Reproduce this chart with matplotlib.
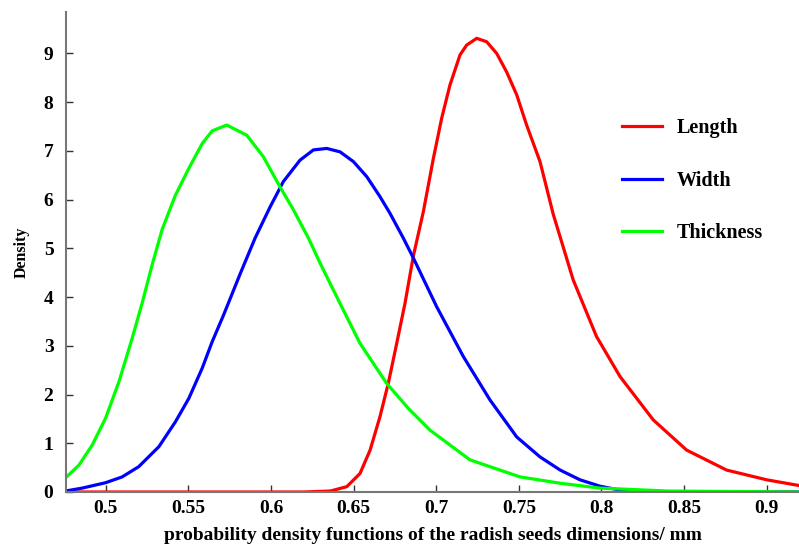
import matplotlib
matplotlib.use("Agg")
import matplotlib.pyplot as plt

# ---------- data ----------
length_x = [0.476, 0.55, 0.62, 0.636, 0.6459, 0.6539, 0.660, 0.666, 0.671, 0.6761, 0.6811,
            0.6862, 0.6922, 0.6983, 0.7033, 0.7083, 0.7144, 0.7184, 0.7245, 0.7305, 0.7366,
            0.7426, 0.7487, 0.7547, 0.7628, 0.7708, 0.7829, 0.797, 0.8112, 0.8313, 0.8515,
            0.8757, 0.900, 0.920]
length_y = [0.0, 0.0, 0.0, 0.02, 0.11, 0.38, 0.86, 1.55, 2.23, 3.05, 3.87,
            4.85, 5.75, 6.85, 7.67, 8.35, 8.97, 9.17, 9.31, 9.24, 9.00,
            8.62, 8.15, 7.53, 6.78, 5.70, 4.35, 3.19, 2.37, 1.48, 0.86,
            0.45, 0.25, 0.13]

width_x = [0.4757, 0.4858, 0.4999, 0.510, 0.520, 0.5322, 0.5422, 0.5503, 0.5584, 0.5644,
           0.5712, 0.5813, 0.5904, 0.5995, 0.6075, 0.6176, 0.6257, 0.6338, 0.6418, 0.6499,
           0.658, 0.666, 0.672, 0.6801, 0.6862, 0.7003, 0.7164, 0.7325, 0.7487, 0.7628,
           0.775, 0.787, 0.799, 0.811, 0.820, 0.920]
width_y = [0.02, 0.08, 0.19, 0.31, 0.52, 0.93, 1.44, 1.92, 2.54, 3.08,
           3.62, 4.47, 5.21, 5.85, 6.37, 6.81, 7.02, 7.05, 6.98, 6.78,
           6.47, 6.06, 5.72, 5.21, 4.80, 3.80, 2.78, 1.89, 1.13, 0.72,
           0.45, 0.25, 0.12, 0.04, 0.0, 0.0]

thick_x = [0.4757, 0.4838, 0.4918, 0.4999, 0.508, 0.516, 0.5221, 0.5281, 0.5342, 0.5422,
           0.5503, 0.5584, 0.5644, 0.5733, 0.5854, 0.5954, 0.6055, 0.6136, 0.6227, 0.6297,
           0.6358, 0.6418, 0.6539, 0.670, 0.683, 0.6962, 0.7204, 0.7507, 0.775, 0.799,
           0.840, 0.920]
thick_y = [0.29, 0.55, 0.96, 1.51, 2.26, 3.15, 3.88, 4.66, 5.39, 6.09,
           6.64, 7.15, 7.41, 7.53, 7.32, 6.88, 6.26, 5.79, 5.21, 4.70,
           4.28, 3.87, 3.05, 2.23, 1.72, 1.27, 0.66, 0.31, 0.18, 0.08,
           0.02, 0.0]

x_ticks = [0.5, 0.55, 0.6, 0.65, 0.7, 0.75, 0.8, 0.85, 0.9]
x_tick_labels = ["0.5", "0.55", "0.6", "0.65", "0.7", "0.75", "0.8", "0.85", "0.9"]
y_ticks = list(range(10))

# ---------- style ----------
plt.rcParams["font.family"] = ["Liberation Serif", "DejaVu Serif"]
plt.rcParams["font.weight"] = "bold"

fig = plt.figure(figsize=(7.99, 5.45), dpi=100)
ax = fig.add_axes([66 / 799, 1 - 492 / 545, 1 - 66 / 799, (492 - 12) / 545])

lw = 2.3
ax.plot(length_x, length_y, color="#ff0000", lw=lw, label="Length")
ax.plot(width_x, width_y, color="#0000ff", lw=lw, label="Width")
ax.plot(thick_x, thick_y, color="#00ff00", lw=lw, label="Thickness")

ax.set_xlim(0.476, 0.9195)
ax.set_ylim(0, 9.85)
ax.set_xticks(x_ticks)
ax.set_xticklabels(x_tick_labels)
ax.set_yticks(y_ticks)

for s in ["top", "right"]:
    ax.spines[s].set_visible(False)
for s in ["left", "bottom"]:
    ax.spines[s].set_color("#777777")
    ax.spines[s].set_linewidth(1.5)

ax.tick_params(direction="in", length=5, width=1, color="#333333", labelsize=14)
ax.tick_params(axis="x", pad=6)
ax.tick_params(axis="y", pad=9)
for lab in ax.get_xticklabels() + ax.get_yticklabels():
    lab.set_fontweight("bold")

ax.set_xlabel("probability density functions of the radish seeds dimensions/ mm",
              fontsize=14, fontweight="bold", labelpad=7)
ax.set_ylabel("Density", fontsize=11.5, fontweight="bold", labelpad=10)

ax.legend(loc="upper left", bbox_to_anchor=((622 - 66) / 733, (492 - 118) / 480),
          frameon=False, handlelength=2.0, handletextpad=0.7,
          labelspacing=1.62, borderpad=0, borderaxespad=0,
          prop={"weight": "bold", "size": 14.5})

fig.savefig("out.png", dpi=100)
